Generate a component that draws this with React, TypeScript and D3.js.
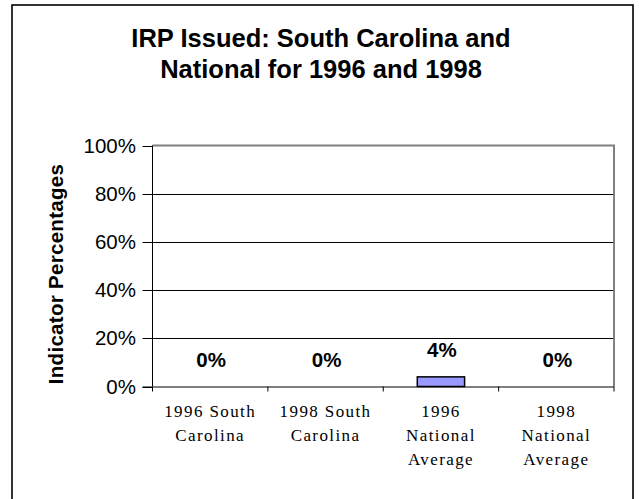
import React, { useRef, useEffect } from 'react';
import * as d3 from 'd3';

const categories = ['1996 South Carolina', '1998 South Carolina', '1996 National Average', '1998 National Average'];
const categoryLines = [
  ['1996 South', 'Carolina'],
  ['1998 South', 'Carolina'],
  ['1996', 'National', 'Average'],
  ['1998', 'National', 'Average'],
];
const values = [0, 0, 0.04, 0];
const yTicks = [0, 0.2, 0.4, 0.6, 0.8, 1];
const titleLines = ['IRP Issued: South Carolina and', 'National for 1996 and 1998'];

const App = () => {
  const svgRef = useRef<SVGSVGElement>(null);

  useEffect(() => {
    const svg = d3.select(svgRef.current);
    svg.selectAll('*').remove();

    const W = 639, H = 499;
    const left = 152.5, right = 614, top = 145.5, bottom = 386.5;

    svg.attr('width', W).attr('height', H).style('background', '#fff');

    // outer chart border
    svg.append('rect')
      .attr('x', 12).attr('y', 5)
      .attr('width', 621).attr('height', 510)
      .attr('fill', '#fff')
      .attr('stroke', '#000')
      .attr('stroke-width', 1.6);

    // title
    svg.append('g').selectAll('text')
      .data(titleLines)
      .enter()
      .append('text')
      .attr('x', 321)
      .attr('y', (d, i) => 47 + i * 31)
      .attr('text-anchor', 'middle')
      .style('font-family', '"Liberation Sans", Arial, sans-serif')
      .style('font-weight', 'bold')
      .style('font-size', '25.5px')
      .text(d => d);

    const x = d3.scaleBand<string>()
      .domain(categories)
      .range([left, right])
      .paddingInner(0.59)
      .paddingOuter(0.295);

    const y = d3.scaleLinear().domain([0, 1]).range([bottom, top]);

    // gridlines
    svg.append('g').selectAll('line')
      .data(yTicks.filter(t => t > 0 && t < 1))
      .enter()
      .append('line')
      .attr('x1', left).attr('x2', right)
      .attr('y1', d => Math.round(y(d)) + 0.5)
      .attr('y2', d => Math.round(y(d)) + 0.5)
      .attr('stroke', '#000');

    // plot border top / right (gray)
    svg.append('path')
      .attr('d', `M${left},${top}H${right}V${bottom}`)
      .attr('fill', 'none')
      .attr('stroke', '#808080')
      .attr('stroke-width', 2);

    // bars
    svg.append('g').selectAll('rect')
      .data(categories.filter((c, i) => values[i] > 0))
      .enter()
      .append('rect')
      .attr('x', c => x(c)!)
      .attr('y', c => y(values[categories.indexOf(c)]))
      .attr('width', x.bandwidth())
      .attr('height', c => bottom - y(values[categories.indexOf(c)]))
      .attr('fill', '#9999ff')
      .attr('stroke', '#000')
      .attr('stroke-width', 1.5);

    // data labels
    svg.append('g').selectAll('text')
      .data(values)
      .enter()
      .append('text')
      .attr('x', (d, i) => x(categories[i])! + x.bandwidth() / 2 + 1)
      .attr('y', d => y(d) - 20)
      .attr('text-anchor', 'middle')
      .style('font-family', '"Liberation Sans", Arial, sans-serif')
      .style('font-weight', 'bold')
      .style('font-size', '20.5px')
      .text(d => d3.format('.0%')(d));

    // y axis
    svg.append('line')
      .attr('x1', left).attr('x2', left)
      .attr('y1', top).attr('y2', bottom)
      .attr('stroke', '#000');
    const yAxis = svg.append('g');
    yAxis.selectAll('line')
      .data(yTicks)
      .enter()
      .append('line')
      .attr('x1', left - 10).attr('x2', left)
      .attr('y1', d => Math.round(y(d)) + 0.5)
      .attr('y2', d => Math.round(y(d)) + 0.5)
      .attr('stroke', '#000');
    yAxis.selectAll('text')
      .data(yTicks)
      .enter()
      .append('text')
      .attr('x', 136)
      .attr('y', d => y(d) + 7)
      .attr('text-anchor', 'end')
      .style('font-family', '"Liberation Sans", Arial, sans-serif')
      .style('font-size', '20.5px')
      .text(d => d3.format('.0%')(d));

    svg.append('text')
      .attr('transform', `translate(63,${(top + bottom) / 2 + 8}) rotate(-90)`)
      .attr('text-anchor', 'middle')
      .style('font-family', '"Liberation Sans", Arial, sans-serif')
      .style('font-weight', 'bold')
      .style('font-size', '20.5px')
      .style('letter-spacing', '0.3px')
      .text('Indicator Percentages');

    // x axis
    svg.append('line')
      .attr('x1', left - 10).attr('x2', right)
      .attr('y1', bottom + 0.5).attr('y2', bottom + 0.5)
      .attr('stroke', '#000');
    const step = x.step();
    svg.append('g').selectAll('line')
      .data(d3.range(categories.length + 1))
      .enter()
      .append('line')
      .attr('x1', i => left + i * step).attr('x2', i => left + i * step)
      .attr('y1', bottom).attr('y2', bottom + 5)
      .attr('stroke', '#000');

    const xLabels = svg.append('g').selectAll('text')
      .data(categories)
      .enter()
      .append('text')
      .attr('x', d => x(d)! + x.bandwidth() / 2)
      .attr('y', 417)
      .attr('text-anchor', 'middle')
      .style('font-family', '"Liberation Serif", "Times New Roman", serif')
      .style('font-size', '17px')
      .style('letter-spacing', '1.4px');
    xLabels.selectAll('tspan')
      .data((d, i) => categoryLines[i])
      .enter()
      .append('tspan')
      .attr('x', function () {
        return (this.parentNode as SVGTextElement).getAttribute('x');
      })
      .attr('dy', (d, i) => (i === 0 ? 0 : 24))
      .text(d => d);
  }, []);

  return <svg ref={svgRef} style={{ position: 'absolute', left: 0, top: 0 }}></svg>;
};

export default App;
